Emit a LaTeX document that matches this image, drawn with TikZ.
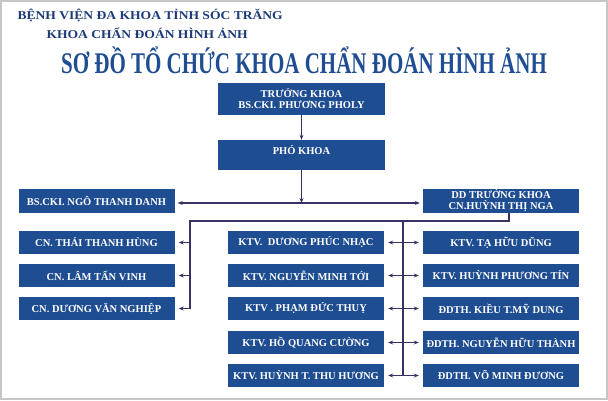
\documentclass[tikz,border=0pt]{standalone}
\usepackage{fontspec}
\setmainfont{Liberation Serif}
\usetikzlibrary{arrows.meta}
\definecolor{boxblue}{RGB}{30,77,145}
\definecolor{titleblue}{RGB}{28,58,122}
\definecolor{linkcol}{RGB}{58,48,100}
\begin{document}
\begin{tikzpicture}[x=1pt,y=-1pt,
  box/.style={fill=boxblue,text=white,font=\bfseries\fontsize{10.5}{11}\selectfont,
    minimum width=156pt,minimum height=23pt,inner sep=0pt,align=center},
  link/.style={draw=linkcol,line width=1.1pt},
  >={Stealth[length=5pt,width=4pt]}]
  \useasboundingbox (0,0) rectangle (608,400);
  % Frame round the sheet
  \draw[gray!45,line width=2pt] (1,1) rectangle (607,399);

  % Headings
  \node[anchor=base west,text=titleblue,font=\bfseries\fontsize{12}{14}\selectfont] (hosp) at (14,19)
    {\scalebox{1.13}[1]{BỆNH VIỆN ĐA KHOA TỈNH SÓC TRĂNG}};
  \node[anchor=base west,text=titleblue,font=\bfseries\fontsize{12}{14}\selectfont] (dept) at (43,38)
    {\scalebox{1.13}[1]{KHOA CHẨN ĐOÁN HÌNH ẢNH}};
  \node[anchor=base,text=boxblue,font=\bfseries\fontsize{30}{32}\selectfont] (title) at (304,73)
    {\scalebox{0.70}[1]{SƠ ĐỒ TỔ CHỨC KHOA CHẨN ĐOÁN HÌNH ẢNH}};

  % Leading boxes
  \node[box,minimum width=167pt,minimum height=32pt] (tk) at (301.5,99) {TRƯỞNG KHOA\\BS.CKI. PHƯƠNG PHOLY};
  \node[box,minimum width=167pt,minimum height=30pt] (pk) at (301.5,155) {PHÓ KHOA\\\mbox{}};
  \node[box,minimum height=24pt] (ngo) at (96.5,201) {BS.CKI. NGÔ THANH DANH};
  \node[box,minimum height=24pt] (dd) at (501,201) {DD TRƯỞNG KHOA\\CN.HUỲNH THỊ NGA};

  % Left column
  \node[box] (l1) at (96.5,242.5) {CN. THÁI THANH HÙNG};
  \node[box] (l2) at (96.5,275.5) {CN. LÂM TẤN VINH};
  \node[box] (l3) at (96.5,308.5) {CN. DƯƠNG VĂN NGHIỆP};

  % Middle column
  \node[box] (m1) at (306,242.5) {KTV.\ \ DƯƠNG PHÚC NHẠC};
  \node[box] (m2) at (306,275.5) {KTV. NGUYỄN MINH TỚI};
  \node[box] (m3) at (306,308.5) {KTV . PHẠM ĐỨC THUỴ};
  \node[box] (m4) at (306,342.5) {KTV. HỒ QUANG CƯỜNG};
  \node[box] (m5) at (306,375.5) {KTV. HUỲNH T. THU HƯƠNG};

  % Right column
  \node[box] (r1) at (501,242.5) {KTV. TẠ HỮU DŨNG};
  \node[box] (r2) at (501,275.5) {KTV. HUỲNH PHƯƠNG TÍN};
  \node[box] (r3) at (501,308.5) {ĐDTH. KIỀU T.MỸ DUNG};
  \node[box] (r4) at (501,342.5) {ĐDTH. NGUYỄN HỮU THÀNH};
  \node[box] (r5) at (501,375.5) {ĐDTH. VÕ MINH ĐƯƠNG};

  % Connectors
  \coordinate (split) at (301.5,203);
  \coordinate (drop) at (509,221);
  \coordinate (turn) at (190,221);
  \coordinate (leftend) at (190,308.5);
  \coordinate (spine) at (403,221);
  \coordinate (spineend) at (403,375.5);
  \draw[link,->] (tk) -- (pk);
  \draw[link,->] (pk) -- (split);
  \draw[link,<->,shorten <=3pt,shorten >=3pt] (ngo.east |- split) -- (dd.west |- split);
  \draw[link] (dd.south -| drop) -- (drop) -- (turn) -- (leftend);
  \draw[link] (spine) -- (spineend);
  \foreach \n in {l1,l2,l3}
    \draw[link,->,shorten >=4pt] (turn |- \n) -- (\n.east);
  \foreach \n/\m in {m1/r1,m2/r2,m3/r3,m4/r4,m5/r5}
    \draw[link,<->,shorten <=4pt,shorten >=4pt] (\n.east) -- (\m.west);
\end{tikzpicture}
\end{document}
